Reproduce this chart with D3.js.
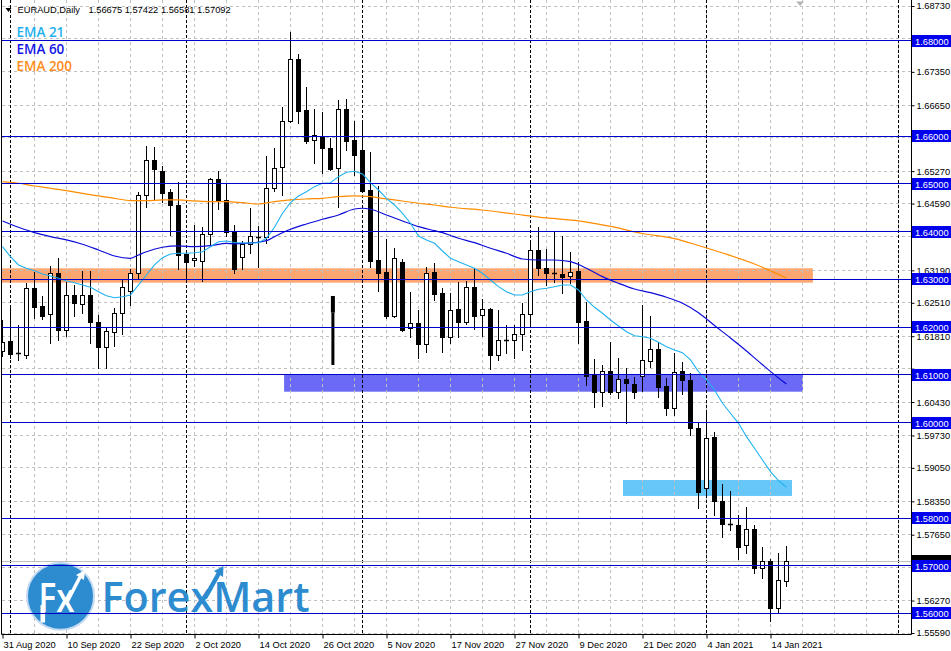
<!DOCTYPE html>
<html><head><meta charset="utf-8">
<script src="https://cdn.jsdelivr.net/npm/d3@7"></script>
<style>body{margin:0;background:#fff;} svg{display:block;}</style>
</head><body>
<svg id="c" width="951" height="651"></svg>
<script>
// ---------------- DATA ----------------
const symbolTitle = "EURAUD,Daily";
const headerValues = ["1.56675", "1.57422", "1.56581", "1.57092"];

const barOpen = [1.61506,1.61703,1.61458,1.61410,1.62820,1.62443,1.62269,1.63129,1.61934,1.62668,
1.62479,1.62668,1.62107,1.61591,1.61905,1.62302,1.62751,1.63141,1.64763,1.65503,
1.65273,1.64832,1.64560,1.63533,1.63401,1.63380,1.63946,1.65105,1.64665,1.63995,
1.63464,1.63736,1.63883,1.63883,1.64910,1.65350,1.66314,1.67613,1.66550,1.65916,
1.66000,1.65755,1.65329,1.66565,1.65922,1.65713,1.64874,1.63408,1.63156,1.62240,
1.63359,1.61976,1.62081,1.61647,1.63150,1.62716,1.61800,1.62374,1.62113,1.62835,
1.62248,1.62374,1.61423,1.61725,1.61725,1.61851,1.62282,1.63611,1.63233,1.63129,
1.63114,1.63066,1.63177,1.62128,1.60991,1.60635,1.61074,1.60635,1.60907,1.60809,
1.60983,1.61284,1.61536,1.60767,1.60300,1.61074,1.60893,1.59880,1.58623,1.59692,
1.58357,1.57869,1.57854,1.57431,1.57763,1.56952,1.57092,1.56122,1.56675];
const barHigh = [1.62150,1.62416,1.62039,1.62925,1.63162,1.62653,1.63276,1.63443,1.62952,1.62883,
1.63177,1.63170,1.62261,1.62010,1.62395,1.62988,1.63219,1.64839,1.65797,1.65776,
1.65384,1.64902,1.65036,1.63554,1.64134,1.64093,1.65126,1.65273,1.65015,1.64134,
1.63806,1.64497,1.64120,1.65587,1.65755,1.66607,1.68185,1.67724,1.67033,1.66565,
1.66509,1.65964,1.66760,1.66775,1.66314,1.66306,1.65664,1.64964,1.63841,1.63653,
1.63422,1.62730,1.62359,1.63254,1.63338,1.62814,1.62716,1.62952,1.62967,1.63246,
1.62584,1.62408,1.62359,1.62039,1.62039,1.62500,1.63791,1.64106,1.63638,1.64015,
1.63911,1.63575,1.63372,1.62533,1.61326,1.61207,1.61695,1.61360,1.61144,1.60962,
1.62464,1.62234,1.61695,1.60929,1.61452,1.61276,1.61046,1.60006,1.60195,1.59809,
1.58713,1.58567,1.58064,1.58231,1.57854,1.57386,1.57141,1.57260,1.57422];
const barLow = [1.61395,1.61347,1.61311,1.61353,1.62198,1.62165,1.61674,1.61731,1.61814,1.62240,
1.62289,1.61661,1.61144,1.61144,1.61605,1.61851,1.62464,1.63036,1.64525,1.64680,
1.64629,1.63925,1.63212,1.63003,1.63282,1.62974,1.63743,1.64476,1.63911,1.63141,
1.63225,1.63560,1.63261,1.63757,1.64847,1.64763,1.66293,1.66285,1.65853,1.65434,
1.65237,1.65294,1.64512,1.65713,1.65182,1.64832,1.63268,1.62764,1.62184,1.62219,
1.61926,1.61800,1.61347,1.61486,1.62569,1.61486,1.61661,1.61788,1.62066,1.61955,
1.61814,1.61129,1.61311,1.61465,1.61360,1.61521,1.62010,1.63093,1.62883,1.62939,
1.62722,1.62932,1.61661,1.60788,1.60321,1.60355,1.60600,1.60522,1.59986,1.60510,
1.60668,1.61171,1.60544,1.60160,1.60160,1.60600,1.59740,1.58204,1.58462,1.58064,
1.57609,1.57749,1.57135,1.57273,1.56847,1.56749,1.55848,1.56038,1.56581];
const barClose = [1.61695,1.61443,1.61431,1.62814,1.62429,1.62240,1.63129,1.61934,1.62668,1.62512,
1.62668,1.62113,1.61591,1.61920,1.62289,1.62835,1.63129,1.64763,1.65503,1.65308,
1.64818,1.64567,1.63519,1.63372,1.63450,1.63946,1.65099,1.64650,1.64001,1.63225,
1.63736,1.63904,1.63869,1.64910,1.65329,1.66320,1.67613,1.66536,1.65908,1.66021,
1.65748,1.65321,1.66565,1.65908,1.65615,1.64860,1.63394,1.63141,1.62234,1.63443,
1.61940,1.62081,1.61641,1.63129,1.62695,1.61800,1.62359,1.62113,1.62835,1.62240,
1.62374,1.61423,1.61725,1.61727,1.61851,1.62269,1.63611,1.63233,1.63129,1.63122,
1.63045,1.63162,1.62113,1.60983,1.60647,1.61074,1.60635,1.60907,1.60823,1.60635,
1.61305,1.61536,1.60753,1.60300,1.61066,1.60899,1.59880,1.58552,1.59671,1.58363,
1.57869,1.57862,1.57401,1.57763,1.56952,1.57092,1.56122,1.56695,1.57092];

const dateLabels = ["31 Aug 2020","10 Sep 2020","22 Sep 2020","2 Oct 2020","14 Oct 2020","26 Oct 2020",
"5 Nov 2020","17 Nov 2020","27 Nov 2020","9 Dec 2020","21 Dec 2020","4 Jan 2021","14 Jan 2021"];
const labelStep = 8;      // bars between date labels
const gridStep = 4;       // bars between vertical grid lines
const separatorIdx = [1, 23, 45, 66, 88, 112];

const ema21 = [1.63686,1.63477,1.63303,1.63234,1.63183,1.63114,1.63072,1.63024,1.62967,1.62932,
1.62884,1.62835,1.62743,1.62659,1.62617,1.62638,1.62674,1.62884,1.63093,1.63303,
1.63456,1.63533,1.63548,1.63548,1.63560,1.63581,1.63686,1.63791,1.63806,1.63774,
1.63764,1.63764,1.63770,1.63862,1.64093,1.64386,1.64608,1.64749,1.64839,1.64944,
1.65015,1.65027,1.65153,1.65245,1.65266,1.65210,1.65027,1.64874,1.64700,1.64560,
1.64386,1.64177,1.63910,1.63827,1.63757,1.63596,1.63443,1.63372,1.63303,1.63234,
1.63129,1.62988,1.62848,1.62743,1.62674,1.62674,1.62743,1.62793,1.62814,1.62848,
1.62884,1.62884,1.62779,1.62569,1.62416,1.62290,1.62150,1.62024,1.61905,1.61821,
1.61800,1.61767,1.61683,1.61591,1.61521,1.61465,1.61312,1.61067,1.60893,1.60683,
1.60404,1.60195,1.59985,1.59705,1.59461,1.59216,1.58971,1.58783,1.58644];

const ema60Idx = [0,2,4,6,8,10,12,14,16,17,18,20,22,24,26,28,29,33,34,36,38,40,42,44,45,46,48,50,52,54,55,56,57,59,61,63,65,67,69,71,73,75,77,79,81,83,85,87,89,91,93,95,97,98];
const ema60 = [1.64225,1.64093,1.63980,1.63896,1.63827,1.63736,1.63617,1.63491,1.63443,1.63512,1.63581,1.63674,1.63701,1.63686,1.63707,1.63757,1.63743,1.63812,1.63896,1.64051,1.64162,1.64260,1.64351,1.64476,1.64491,1.64470,1.64351,1.64225,1.64105,1.64021,1.63980,1.63921,1.63862,1.63770,1.63653,1.63548,1.63428,1.63407,1.63407,1.63372,1.63234,1.63058,1.62919,1.62800,1.62722,1.62626,1.62500,1.62303,1.62035,1.61773,1.61500,1.61211,1.60935,1.60809];

const ema200Idx = [0,2,4,6,8,10,12,14,16,18,20,22,24,26,28,30,32,34,36,38,40,42,44,46,48,50,52,54,56,60,64,68,72,76,80,84,87,90,94,98];
const ema200 = [1.65048,1.65015,1.64958,1.64910,1.64860,1.64805,1.64749,1.64700,1.64650,1.64650,1.64665,1.64665,1.64644,1.64629,1.64629,1.64608,1.64581,1.64629,1.64665,1.64686,1.64700,1.64734,1.64749,1.64734,1.64686,1.64644,1.64596,1.64560,1.64512,1.64455,1.64371,1.64288,1.64225,1.64110,1.63963,1.63856,1.63711,1.63554,1.63324,1.63030];

const legendNames = ["EMA 21", "EMA 60", "EMA 200"];
const hLevels = [1.68, 1.66, 1.65, 1.64, 1.63, 1.62, 1.61, 1.60, 1.58, 1.57, 1.56];
const priceTicks = [1.68730,1.68040,1.67350,1.66650,1.65970,1.65270,1.64590,1.63890,1.63190,1.62510,
1.61810,1.61130,1.60430,1.59730,1.59050,1.58350,1.57650,1.56960,1.56270,1.55590];
const bidPrice = 1.57092;

// zones: [fromIdx, toIdx, topPrice, bottomPrice]
const zoneFrom = [-1, 35.2, 77.56];
const zoneTo = [101.3, 100.06, 98.69];
const zoneTop = [1.63233, 1.60997, 1.58797];
const zoneBottom = [1.62932, 1.60647, 1.58462];
const zoneColors = ["#ffa56f", "#6a6af6", "#68c7f9"];

// stray vertical stick object
const stickIdx = 41.3;
const stickPrices = [1.62653, 1.62303, 1.61207];

// ---------------- DRAW ----------------
const svg = d3.select("#c");
const x = d3.scaleLinear().domain([0, 113.5]).range([2.5, 910.5]);
const y = d3.scaleLinear().domain([1.55590, 1.68730]).range([633, 6]);
const snap = v => Math.round(v - 0.5) + 0.5;
const PL = 2, PR = 911, PT = 0, PB = 634;
const AX_FONT = "Liberation Sans, Arial, sans-serif";

svg.append("rect").attr("width", 951).attr("height", 651).attr("fill", "#fff");
svg.append("defs").append("clipPath").attr("id", "plot")
  .append("rect").attr("x", PL).attr("y", PT).attr("width", PR - PL).attr("height", PB - PT);
const g = svg.append("g").attr("clip-path", "url(#plot)");

// zones (background)
g.selectAll("rect.zone").data(zoneFrom.map((f, i) => i)).join("rect")
  .attr("x", i => x(zoneFrom[i])).attr("width", i => x(zoneTo[i]) - x(zoneFrom[i]))
  .attr("y", i => y(zoneTop[i])).attr("height", i => y(zoneBottom[i]) - y(zoneTop[i]))
  .attr("fill", i => zoneColors[i]);

// horizontal grid
g.selectAll("line.hg").data(priceTicks).join("line")
  .attr("x1", PL).attr("x2", PR).attr("y1", d => snap(y(d))).attr("y2", d => snap(y(d)))
  .attr("stroke", "#c0c0c0").attr("stroke-dasharray", "3,3");
// vertical grid
const vIdx = d3.range(gridStep, 113, gridStep);
g.selectAll("line.vg").data(vIdx).join("line")
  .attr("x1", d => x(d)).attr("x2", d => x(d)).attr("y1", PT).attr("y2", PB)
  .attr("stroke", "#c0c0c0").attr("stroke-dasharray", "3,3");
// period separators
g.selectAll("line.sep").data(separatorIdx).join("line")
  .attr("x1", d => x(d)).attr("x2", d => x(d)).attr("y1", PT).attr("y2", PB)
  .attr("stroke", "#000").attr("stroke-dasharray", "3,2");

// logo
const logo = g.append("g");
logo.append("circle").attr("cx", 60.5).attr("cy", 596.3).attr("r", 33.5)
  .attr("fill", "#2d8bd0").attr("stroke", "#c3daf1").attr("stroke-width", 2);
logo.append("text").attr("x", 38.5).attr("y", 611.5).text("Fx")
  .attr("font-family", "Open Sans").attr("font-weight", 600).attr("font-size", 40)
  .attr("fill", "#fff").attr("textLength", 36).attr("lengthAdjust", "spacingAndGlyphs");
logo.append("rect").attr("x", 40.5).attr("y", 605).attr("width", 4.6).attr("height", 17.5).attr("fill", "#fff");
logo.append("path").attr("d", "M66,604 L80,577").attr("stroke", "#fff").attr("stroke-width", 3.5);
logo.append("path").attr("d", "M76,575 L85,570 L84,580 Z").attr("fill", "#fff");
logo.append("text").attr("x", 101.5).attr("y", 611.5).text("ForexMart")
  .attr("font-family", "Open Sans").attr("font-weight", 600).attr("font-size", 42)
  .attr("fill", "#2d8bd0").attr("textLength", 208).attr("lengthAdjust", "spacingAndGlyphs");
logo.append("path").attr("d", "M205,598 L219,573").attr("stroke", "#2d8bd0").attr("stroke-width", 4.5);
logo.append("path").attr("d", "M214,571 L223.5,566 L223,577 Z").attr("fill", "#2d8bd0");

// bid line
g.append("line").attr("x1", PL).attr("x2", PR)
  .attr("y1", snap(y(bidPrice))).attr("y2", snap(y(bidPrice)))
  .attr("stroke", "#c0c0c0");

// candles
const bars = barOpen.map((o, i) => ({i, o, h: barHigh[i], l: barLow[i], c: barClose[i]}));
const cg = g.append("g");
bars.forEach(b => {
  const cx = x(b.i);
  cg.append("line").attr("x1", cx).attr("x2", cx)
    .attr("y1", Math.round(y(b.h))).attr("y2", Math.round(y(b.l)) + 1).attr("stroke", "#000");
  const top = Math.round(y(Math.max(b.o, b.c)));
  const bot = Math.round(y(Math.min(b.o, b.c)));
  if (bot - top < 1.5) {
    cg.append("line").attr("x1", cx - 2.5).attr("x2", cx + 2.5)
      .attr("y1", top + 0.5).attr("y2", top + 0.5).attr("stroke", "#000").attr("stroke-width", 1.5);
  } else {
    cg.append("rect").attr("x", cx - 2).attr("y", top + 0.5).attr("width", 4).attr("height", bot - top)
      .attr("fill", b.c >= b.o ? "#fff" : "#000").attr("stroke", "#000");
  }
});

// stick object
g.append("rect").attr("x", x(stickIdx) - 2).attr("width", 4)
  .attr("y", y(stickPrices[0])).attr("height", y(stickPrices[1]) - y(stickPrices[0])).attr("fill", "#000");
g.append("rect").attr("x", x(stickIdx) - 1.5).attr("width", 3)
  .attr("y", y(stickPrices[1])).attr("height", y(stickPrices[2]) - y(stickPrices[1])).attr("fill", "#000");

// EMAs
const line = d3.line().x(d => x(d[0])).y(d => y(d[1]));
const lineSmooth = d3.line().x(d => x(d[0])).y(d => y(d[1])).curve(d3.curveMonotoneX);
g.append("path").attr("d", lineSmooth(ema200.map((v, i) => [ema200Idx[i], v])))
  .attr("fill", "none").attr("stroke", "#ff8c00").attr("stroke-width", 1.2);
g.append("path").attr("d", lineSmooth(ema60.map((v, i) => [ema60Idx[i], v])))
  .attr("fill", "none").attr("stroke", "#0c0cd8").attr("stroke-width", 1.2);
g.append("path").attr("d", line(ema21.map((v, i) => [i, v])))
  .attr("fill", "none").attr("stroke", "#1eb2f2").attr("stroke-width", 1.1);

// horizontal level lines
g.selectAll("line.hl").data(hLevels).join("line")
  .attr("x1", PL).attr("x2", PR).attr("y1", d => snap(y(d))).attr("y2", d => snap(y(d)))
  .attr("stroke", "#0000cd");

// shift marker
svg.append("path").attr("d", `M${x(99.7) - 4},1.5 L${x(99.7) + 4},1.5 L${x(99.7)},6 Z`).attr("fill", "#b4b4b4");

// frame
svg.append("path").attr("d", `M1.5,0 V${PB + 0.5} H${PR + 0.5} V0`).attr("fill", "none").attr("stroke", "#000");

// right axis (tick labels that sit under a level label are hidden, as in the terminal)
const hiddenUnderLevel = t => hLevels.some(h => Math.abs(y(h) - y(t)) < 8);
const yAxis = d3.axisRight(y).tickValues(priceTicks).tickSize(3).tickSizeOuter(0)
  .tickFormat(t => hiddenUnderLevel(t) ? "" : d3.format(".5f")(t));
const ya = svg.append("g").attr("transform", `translate(${PR + 0.5},0)`).call(yAxis);
ya.select(".domain").remove();
ya.selectAll("text").attr("font-family", AX_FONT).attr("font-size", 9.3).attr("fill", "#000").attr("x", 5);

// bottom axis
const labelIdx = dateLabels.map((d, i) => i * labelStep);
const xAxis = d3.axisBottom(x).tickValues(labelIdx).tickSize(4).tickSizeOuter(0)
  .tickFormat(d => dateLabels[d / labelStep]);
const xa = svg.append("g").attr("transform", `translate(0,${PB + 0.5})`).call(xAxis);
xa.select(".domain").remove();
xa.selectAll("text").attr("font-family", AX_FONT).attr("font-size", 9.3)
  .attr("fill", "#000").attr("text-anchor", "start").attr("dx", 0.5);

// price label boxes: bid (black, mostly covered) then level labels
const fmt = d3.format(".5f");
svg.append("rect").attr("x", 912).attr("y", Math.round(y(bidPrice)) - 6).attr("width", 39).attr("height", 12).attr("fill", "#000");
const lab = svg.selectAll("g.lv").data(hLevels).join("g");
lab.append("rect").attr("x", 912).attr("y", d => Math.round(y(d)) - 6).attr("width", 39).attr("height", 12).attr("fill", "#0000ee");
lab.append("text").attr("x", 915).attr("y", d => Math.round(y(d)) + 3.5).text(d => fmt(d))
  .attr("font-family", AX_FONT).attr("font-size", 9.3).attr("fill", "#fff");

// header
svg.append("path").attr("d", "M5.5,8 L11.5,8 L8.5,12 Z").attr("fill", "#000");
const hdr = svg.append("text").attr("y", 12.5).attr("font-family", AX_FONT).attr("font-size", 9.3).attr("fill", "#000");
hdr.append("tspan").attr("x", 17.5).text(symbolTitle);
hdr.append("tspan").attr("x", 88.5).text(headerValues.join(" "));

// legend
const legendColors = ["#1fb0f0", "#1414e6", "#ff8c1e"];
svg.selectAll("text.leg").data(legendNames).join("text")
  .attr("x", 16.5).attr("y", (d, i) => 37 + i * 17).text(d => d)
  .attr("font-family", "Open Sans, sans-serif").attr("font-weight", 600).attr("font-size", 13.5)
  .attr("fill", (d, i) => legendColors[i]);
</script>
</body></html>
